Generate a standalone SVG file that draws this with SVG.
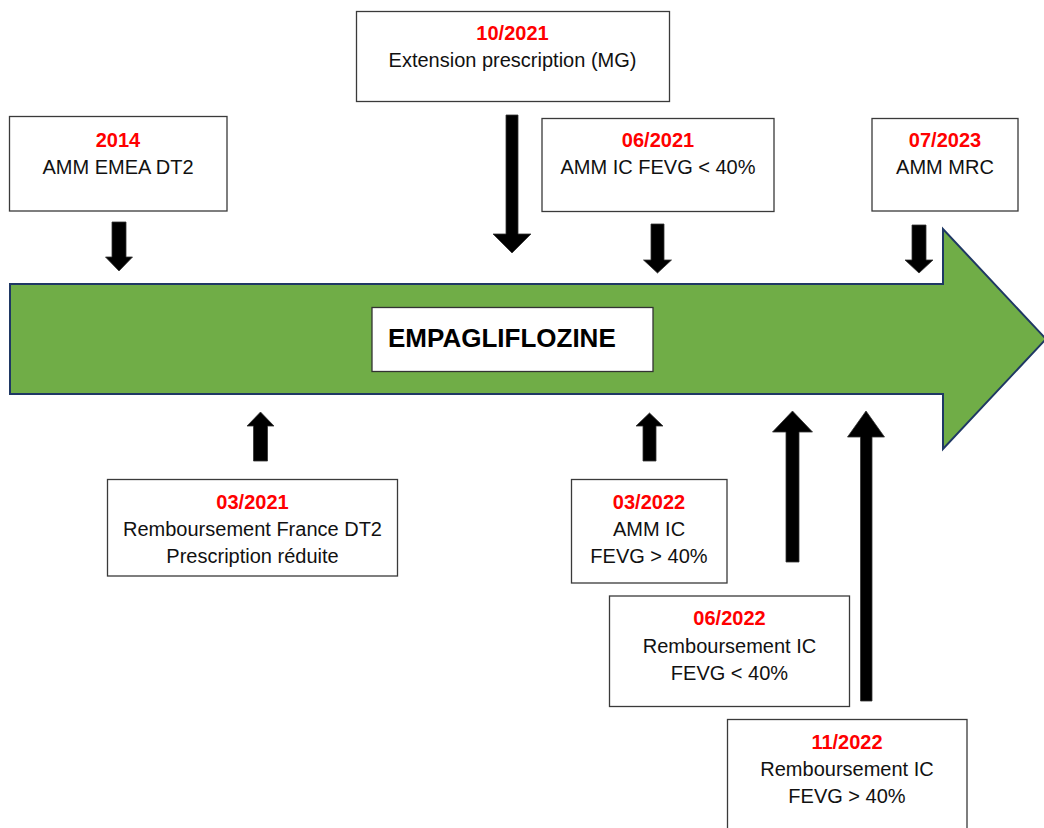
<svg xmlns="http://www.w3.org/2000/svg" width="1044" height="828" viewBox="0 0 1044 828">
<style>
.box{fill:#fff;stroke:#3a3a3a;stroke-width:1.3}
.d{font-family:"Liberation Sans",Arial,sans-serif;font-size:20px;font-weight:bold;fill:#ff0000;text-anchor:middle}
.t{font-family:"Liberation Sans",Arial,sans-serif;font-size:20px;fill:#111;text-anchor:middle}
.arr{fill:#000;stroke:#333;stroke-width:0.8}
</style>
<rect width="1044" height="828" fill="#fff"/>
<g id="timeline">
<polygon points="10,284 943,284 943,229 1046,339 943,449 943,394 10,394" fill="#70AD47" stroke="#1F3864" stroke-width="2"/>
</g>
<g id="title">
<rect x="372" y="307.5" width="281" height="64" fill="#fff" stroke="#333" stroke-width="1.3"/>
<text x="388" y="346.5" font-family="Liberation Sans,Arial,sans-serif" font-size="26" font-weight="bold" fill="#000">EMPAGLIFLOZINE</text>
</g>
<g id="connectors">
<polygon class="arr" points="112,222 126,222 126,257 132.5,257 119,271 105.5,257 112,257"/>
<polygon class="arr" points="506,115 518,115 518,234 531,234 512,253 493,234 506,234"/>
<polygon class="arr" points="651,224 664,224 664,260 671.5,260 657.5,273 643.5,260 651,260"/>
<polygon class="arr" points="912,225 926,225 926,260 933,260 919,273 905,260 912,260"/>
<polygon class="arr" points="253.5,461 267.5,461 267.5,426 274,426 260.5,412 247,426 253.5,426"/>
<polygon class="arr" points="643,461 656,461 656,426 663,426 649.5,413 636,426 643,426"/>
<polygon class="arr" points="786,562 799,562 799,432 812.5,432 792.5,411 772.5,432 786,432"/>
<polygon class="arr" points="860.5,701 872,701 872,437 884.5,437 866,411 847.5,437 860.5,437"/>
</g>
<g id="n2014">
<rect class="box" x="9.5" y="116.5" width="217.5" height="94.5"/>
<text class="d" x="118" y="146.5">2014</text>
<text class="t" x="118" y="174">AMM EMEA DT2</text>
</g>
<g id="n102021">
<rect class="box" x="356.5" y="11.5" width="313" height="90"/>
<text class="d" x="512.5" y="40">10/2021</text>
<text class="t" x="512.5" y="67">Extension prescription (MG)</text>
</g>
<g id="n062021">
<rect class="box" x="542" y="118.5" width="232" height="93"/>
<text class="d" x="658" y="146.5">06/2021</text>
<text class="t" x="658" y="174">AMM IC FEVG &lt; 40%</text>
</g>
<g id="n072023">
<rect class="box" x="872" y="118.5" width="146" height="92.5"/>
<text class="d" x="945" y="146.5">07/2023</text>
<text class="t" x="945" y="174">AMM MRC</text>
</g>
<g id="n032021">
<rect class="box" x="107.5" y="479.5" width="290" height="96.5"/>
<text class="d" x="252.5" y="509">03/2021</text>
<text class="t" x="252.5" y="536">Remboursement France DT2</text>
<text class="t" x="252.5" y="563">Prescription réduite</text>
</g>
<g id="n032022">
<rect class="box" x="571.5" y="479.5" width="155.5" height="103.5"/>
<text class="d" x="649" y="508.5">03/2022</text>
<text class="t" x="649" y="536">AMM IC</text>
<text class="t" x="649" y="563">FEVG &gt; 40%</text>
</g>
<g id="n062022">
<rect class="box" x="609.5" y="596" width="240" height="110.5"/>
<text class="d" x="729.5" y="625">06/2022</text>
<text class="t" x="729.5" y="652.5">Remboursement IC</text>
<text class="t" x="729.5" y="679.5">FEVG &lt; 40%</text>
</g>
<g id="n112022">
<rect class="box" x="727.5" y="719.5" width="239.5" height="130"/>
<text class="d" x="847" y="749">11/2022</text>
<text class="t" x="847" y="776">Remboursement IC</text>
<text class="t" x="847" y="803">FEVG &gt; 40%</text>
</g>
</svg>
